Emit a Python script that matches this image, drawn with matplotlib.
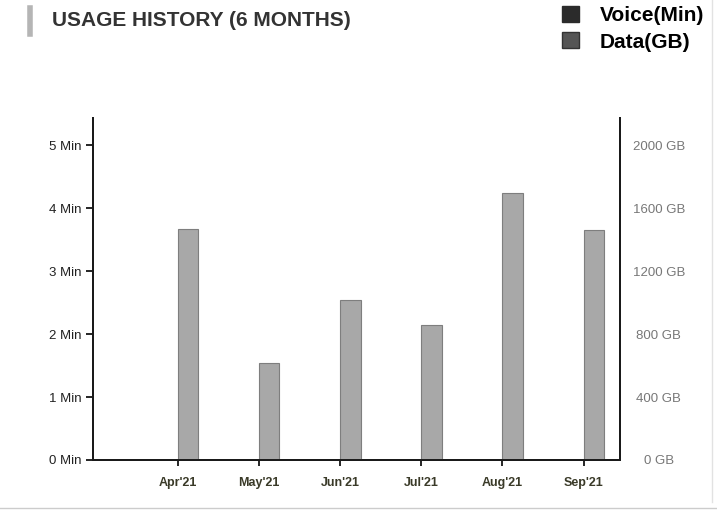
import matplotlib.pyplot as plt
from matplotlib.lines import Line2D
from matplotlib.patches import Patch

months = ["Apr'21", "May'21", "Jun'21", "Jul'21", "Aug'21", "Sep'21"]
data_gb = [1470, 615, 1015, 855, 1695, 1460]
voice_min = [0, 0, 0, 0, 0, 0]
min_ticks = [0, 1, 2, 3, 4, 5]
gb_ticks = [0, 400, 800, 1200, 1600, 2000]

plt.rcParams['font.family'] = ['Liberation Sans', 'DejaVu Sans']

fig = plt.figure(figsize=(7.17, 5.18), dpi=100)
ax = fig.add_axes([0.1297, 0.112, 0.735, 0.66])
ax2 = ax.twinx()

x = list(range(len(months)))
ax2.bar(x, data_gb, width=0.25, align='edge', color='#a8a8a8', edgecolor='#7e7e7e', linewidth=0.8)
ax.bar(x, voice_min, width=0.25, align='edge', color='#2b2b2b')

ax.set_xlim(-1.05, 5.45)
ax.set_ylim(0, 5.43)
ax2.set_ylim(0, 5.43 * 400)

ax.set_xticks(x)
ax.set_xticklabels(months, fontsize=9, fontweight='bold', color='#3a3a28')
ax.set_yticks(min_ticks)
ax.set_yticklabels([f"{m} Min" for m in min_ticks], fontsize=9.5, color='#222222')
ax.tick_params(axis='x', length=4, width=1.2, pad=8)
ax.tick_params(axis='y', length=5, width=1.2, pad=3)

ax2.set_yticks(gb_ticks)
ax2.set_yticklabels([f"{g} GB" for g in gb_ticks], fontsize=9.5, color='#777777')
ax2.tick_params(axis='y', length=0, pad=28)
for lbl in ax2.get_yticklabels():
    lbl.set_horizontalalignment('center')

for a in (ax, ax2):
    a.spines['top'].set_visible(False)
    for s in ('left', 'right', 'bottom'):
        a.spines[s].set_linewidth(1.4)
        a.spines[s].set_color('#1a1a1a')

# title with grey marker bar
fig.add_artist(Line2D([0.042, 0.042], [0.935, 0.985], color='#b5b5b5', linewidth=4))
fig.text(0.073, 0.96, "USAGE HISTORY (6 MONTHS)", fontsize=15, fontweight='bold',
         color='#333333', va='center', ha='left')

handles = [Patch(facecolor='#2b2b2b', edgecolor='#2b2b2b'),
           Patch(facecolor='#555555', edgecolor='#333333')]
fig.legend(handles, ["Voice(Min)", "Data(GB)"], loc='upper right', bbox_to_anchor=(1.008, 1.025),
           frameon=False, handlelength=0.8, handleheight=0.8, handletextpad=1.0,
           labelspacing=0.35, prop={'weight': 'bold', 'size': 15})

fig.add_artist(Line2D([0.0, 1.0], [0.02, 0.02], color='#cccccc', linewidth=1))
fig.add_artist(Line2D([0.993, 0.993], [0.03, 1.0], color='#e2e2e2', linewidth=1))

fig.savefig("out.png", dpi=100)
